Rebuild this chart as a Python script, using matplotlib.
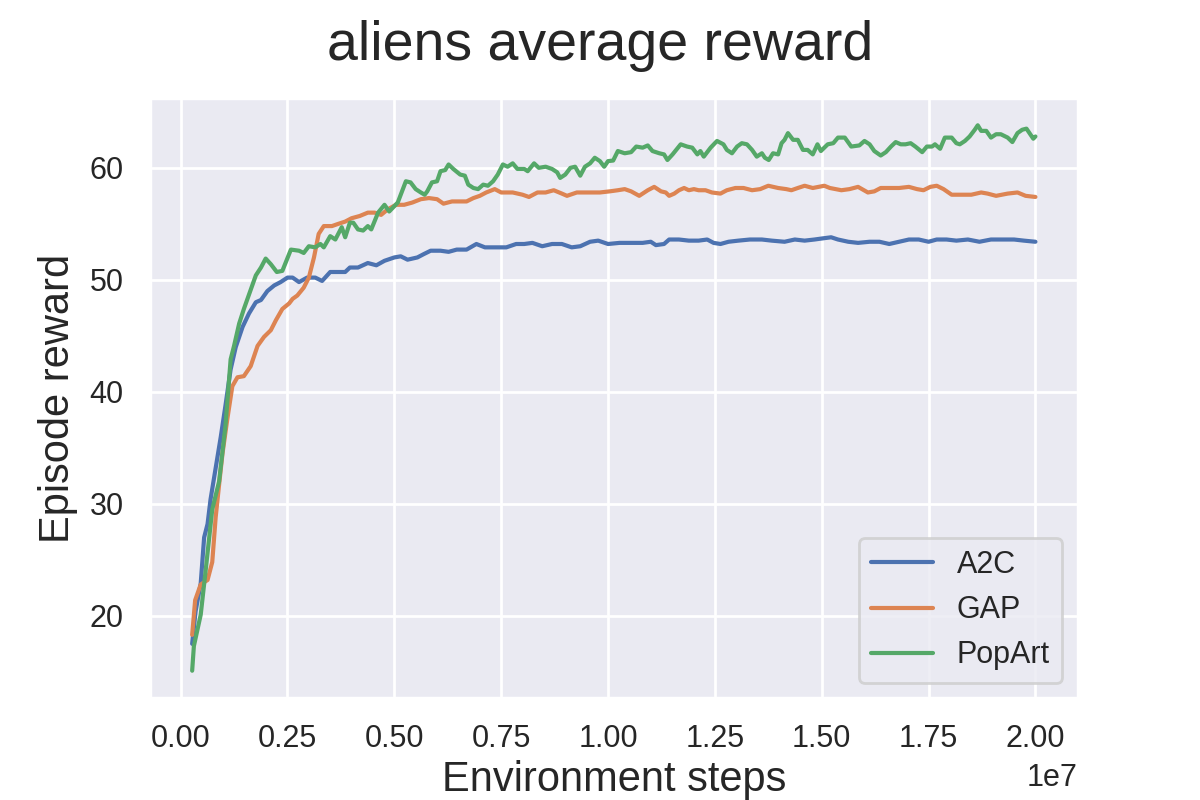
import matplotlib
matplotlib.use("Agg")
import matplotlib.pyplot as plt
import seaborn as sns
import numpy as np

# ---- data (steps in units of 1e7) ----
a2c_steps = [0.027, 0.035, 0.047, 0.055, 0.063, 0.07, 0.082, 0.094, 0.105, 0.117, 0.129, 0.145,
             0.16, 0.176, 0.188, 0.203, 0.219, 0.234, 0.25, 0.262, 0.277, 0.296, 0.315, 0.331,
             0.35, 0.369, 0.385, 0.396, 0.415, 0.438, 0.458, 0.477, 0.5, 0.515, 0.531, 0.554,
             0.569, 0.585, 0.608, 0.627, 0.646, 0.669, 0.692, 0.712, 0.738, 0.762, 0.785, 0.804,
             0.823, 0.846, 0.869, 0.892, 0.915, 0.935, 0.958, 0.977, 1.0, 1.027, 1.058, 1.081,
             1.1, 1.112, 1.131, 1.143, 1.166, 1.189, 1.212, 1.232, 1.247, 1.263, 1.282, 1.305,
             1.332, 1.36, 1.383, 1.413, 1.437, 1.46, 1.483, 1.502, 1.522, 1.538, 1.562, 1.585,
             1.612, 1.635, 1.658, 1.681, 1.704, 1.727, 1.75, 1.769, 1.792, 1.815, 1.842, 1.869,
             1.896, 1.923, 1.95, 1.973, 2.0]
a2c_reward = [17.5, 20.4, 22.9, 27.0, 28.2, 30.4, 33.2, 36.0, 38.8, 42.0, 44.0, 45.8,
              47.0, 48.0, 48.2, 49.0, 49.5, 49.8, 50.2, 50.2, 49.8, 50.2, 50.2, 49.9,
              50.7, 50.7, 50.7, 51.1, 51.1, 51.5, 51.3, 51.7, 52.0, 52.1, 51.8, 52.0,
              52.3, 52.6, 52.6, 52.5, 52.7, 52.7, 53.2, 52.9, 52.9, 52.9, 53.2, 53.2,
              53.3, 53.0, 53.2, 53.2, 52.9, 53.0, 53.4, 53.5, 53.2, 53.3, 53.3, 53.3,
              53.4, 53.1, 53.2, 53.6, 53.6, 53.5, 53.5, 53.6, 53.3, 53.2, 53.4, 53.5,
              53.6, 53.6, 53.5, 53.4, 53.6, 53.5, 53.6, 53.7, 53.8, 53.6, 53.4, 53.3,
              53.4, 53.4, 53.2, 53.4, 53.6, 53.6, 53.4, 53.6, 53.6, 53.5, 53.6, 53.4,
              53.6, 53.6, 53.6, 53.5, 53.4]

gap_steps = [0.027, 0.034, 0.047, 0.063, 0.074, 0.082, 0.09, 0.098, 0.109, 0.121, 0.133, 0.148,
             0.164, 0.18, 0.195, 0.211, 0.223, 0.238, 0.254, 0.262, 0.273, 0.288, 0.3, 0.312,
             0.323, 0.335, 0.354, 0.369, 0.385, 0.4, 0.419, 0.438, 0.454, 0.469, 0.485, 0.504,
             0.523, 0.542, 0.562, 0.581, 0.6, 0.615, 0.635, 0.654, 0.669, 0.685, 0.7, 0.715,
             0.735, 0.75, 0.777, 0.8, 0.815, 0.835, 0.854, 0.873, 0.892, 0.904, 0.927, 0.954,
             0.981, 1.004, 1.023, 1.039, 1.054, 1.073, 1.093, 1.108, 1.124, 1.135, 1.143, 1.155,
             1.166, 1.178, 1.189, 1.201, 1.212, 1.228, 1.243, 1.263, 1.278, 1.298, 1.317, 1.337,
             1.356, 1.375, 1.398, 1.417, 1.429, 1.444, 1.46, 1.479, 1.506, 1.519, 1.546, 1.565,
             1.585, 1.608, 1.623, 1.638, 1.662, 1.681, 1.704, 1.723, 1.738, 1.754, 1.769, 1.785,
             1.804, 1.827, 1.85, 1.873, 1.888, 1.908, 1.935, 1.958, 1.977, 2.0]
gap_reward = [18.3, 21.4, 22.8, 23.2, 24.8, 28.8, 31.7, 34.5, 37.5, 40.5, 41.3, 41.4,
              42.3, 44.1, 44.9, 45.5, 46.4, 47.4, 47.9, 48.3, 48.6, 49.3, 50.2, 52.0,
              54.1, 54.8, 54.8, 55.0, 55.2, 55.5, 55.7, 56.0, 56.0, 55.8, 56.3, 56.7,
              56.7, 56.9, 57.2, 57.3, 57.2, 56.8, 57.0, 57.0, 57.0, 57.3, 57.5, 57.8,
              58.1, 57.8, 57.8, 57.6, 57.4, 57.8, 57.8, 58.0, 57.7, 57.5, 57.8, 57.8,
              57.8, 57.9, 58.0, 58.1, 57.9, 57.5, 58.0, 58.3, 57.9, 57.8, 57.5, 57.7,
              58.0, 58.2, 58.0, 58.1, 58.0, 58.0, 57.8, 57.7, 58.0, 58.2, 58.2, 58.0,
              58.1, 58.4, 58.2, 58.1, 58.0, 58.2, 58.4, 58.2, 58.4, 58.2, 58.0, 58.1,
              58.3, 57.8, 57.9, 58.2, 58.2, 58.2, 58.3, 58.1, 58.0, 58.3, 58.4, 58.1,
              57.6, 57.6, 57.6, 57.8, 57.7, 57.5, 57.7, 57.8, 57.5, 57.4]

popart_steps = [0.027, 0.031, 0.047, 0.059, 0.074, 0.09, 0.105, 0.117, 0.125, 0.137, 0.148, 0.164,
                0.176, 0.188, 0.199, 0.211, 0.225, 0.238, 0.258, 0.277, 0.288, 0.3, 0.315, 0.327,
                0.335, 0.35, 0.362, 0.377, 0.385, 0.396, 0.404, 0.415, 0.427, 0.438, 0.446, 0.462,
                0.477, 0.488, 0.508, 0.515, 0.527, 0.538, 0.55, 0.562, 0.571, 0.577, 0.588, 0.6,
                0.608, 0.619, 0.627, 0.638, 0.654, 0.665, 0.673, 0.685, 0.696, 0.708, 0.719, 0.731,
                0.742, 0.754, 0.765, 0.777, 0.788, 0.804, 0.812, 0.827, 0.838, 0.854, 0.869, 0.881,
                0.888, 0.9, 0.912, 0.923, 0.935, 0.946, 0.958, 0.969, 0.981, 0.991, 1.0, 1.012,
                1.023, 1.039, 1.054, 1.066, 1.081, 1.093, 1.104, 1.12, 1.131, 1.139, 1.151, 1.17,
                1.185, 1.197, 1.209, 1.216, 1.224, 1.24, 1.255, 1.27, 1.278, 1.29, 1.302, 1.313,
                1.325, 1.337, 1.348, 1.36, 1.367, 1.376, 1.386, 1.398, 1.406, 1.413, 1.421, 1.433,
                1.444, 1.456, 1.467, 1.479, 1.49, 1.498, 1.514, 1.527, 1.538, 1.554, 1.569, 1.588,
                1.6, 1.612, 1.623, 1.638, 1.65, 1.662, 1.673, 1.685, 1.696, 1.708, 1.719, 1.735,
                1.746, 1.758, 1.765, 1.777, 1.788, 1.804, 1.815, 1.823, 1.835, 1.846, 1.858, 1.865,
                1.873, 1.885, 1.896, 1.908, 1.919, 1.935, 1.946, 1.958, 1.969, 1.979, 1.988, 1.995,
                2.0]
popart_reward = [15.1, 17.3, 20.1, 24.2, 29.5, 32.0, 37.0, 42.9, 44.1, 46.1, 47.4, 49.1,
                 50.4, 51.1, 51.9, 51.4, 50.7, 50.8, 52.7, 52.6, 52.4, 53.0, 52.9, 53.2,
                 52.9, 53.9, 53.6, 54.7, 53.8, 55.1, 55.1, 54.5, 54.4, 54.8, 54.5, 56.0,
                 56.7, 56.1, 56.9, 57.6, 58.8, 58.7, 58.1, 57.8, 57.6, 57.9, 58.7, 58.8,
                 59.7, 59.8, 60.3, 59.9, 59.4, 59.3, 58.5, 58.2, 58.1, 58.5, 58.4, 58.8,
                 59.4, 60.3, 60.1, 60.4, 59.9, 59.9, 59.7, 60.4, 60.0, 60.1, 59.9, 59.6,
                 59.1, 59.4, 60.0, 60.1, 59.3, 60.1, 60.4, 60.9, 60.6, 60.1, 60.6, 60.65,
                 61.5, 61.3, 61.4, 61.9, 61.8, 62.0, 61.5, 61.3, 61.2, 60.7, 61.2, 62.1,
                 61.9, 61.8, 61.2, 61.5, 61.0, 61.8, 62.4, 62.1, 61.6, 61.3, 61.9, 62.2,
                 62.1, 61.6, 61.0, 61.3, 60.9, 60.7, 61.3, 61.2, 62.2, 62.5, 63.1, 62.5,
                 62.5, 61.6, 61.6, 61.2, 62.1, 61.5, 62.1, 62.2, 62.7, 62.7, 61.9, 62.0,
                 62.4, 62.1, 61.5, 61.1, 61.4, 61.9, 62.3, 62.1, 62.1, 62.2, 61.9, 61.4,
                 61.9, 61.9, 62.1, 61.7, 62.7, 62.7, 62.2, 62.1, 62.4, 62.8, 63.4, 63.8,
                 63.3, 63.3, 62.7, 63.0, 63.0, 62.7, 62.3, 63.1, 63.4, 63.5, 63.0, 62.6,
                 62.8]

series_names = ["A2C", "GAP", "PopArt"]

sns.set_theme(style="darkgrid")
plt.rcParams['font.family'] = ['Liberation Sans', 'DejaVu Sans']

fig = plt.figure(figsize=(6, 4), dpi=200)
ax = fig.add_axes([0.125, 0.1275, 0.773, 0.75])

pal = sns.color_palette()
for steps, rew, name, c in zip([a2c_steps, gap_steps, popart_steps],
                               [a2c_reward, gap_reward, popart_reward],
                               series_names, pal[:3]):
    ax.plot(np.array(steps) * 1e7, rew, label=name, color=c, linewidth=1.5)

ax.set_xlabel("Environment steps", fontsize=15, labelpad=2)
ax.set_ylabel("Episode reward", fontsize=15)
fig.suptitle("aliens average reward", fontsize=20, y=0.975)
ax.tick_params(labelsize=11)
ax.set_xticks(np.arange(0, 2.01, 0.25) * 1e7)
ax.xaxis.get_offset_text().set_fontsize(11)
ax.legend(loc="lower right", fontsize=11)

fig.savefig("out.png", dpi=200)
